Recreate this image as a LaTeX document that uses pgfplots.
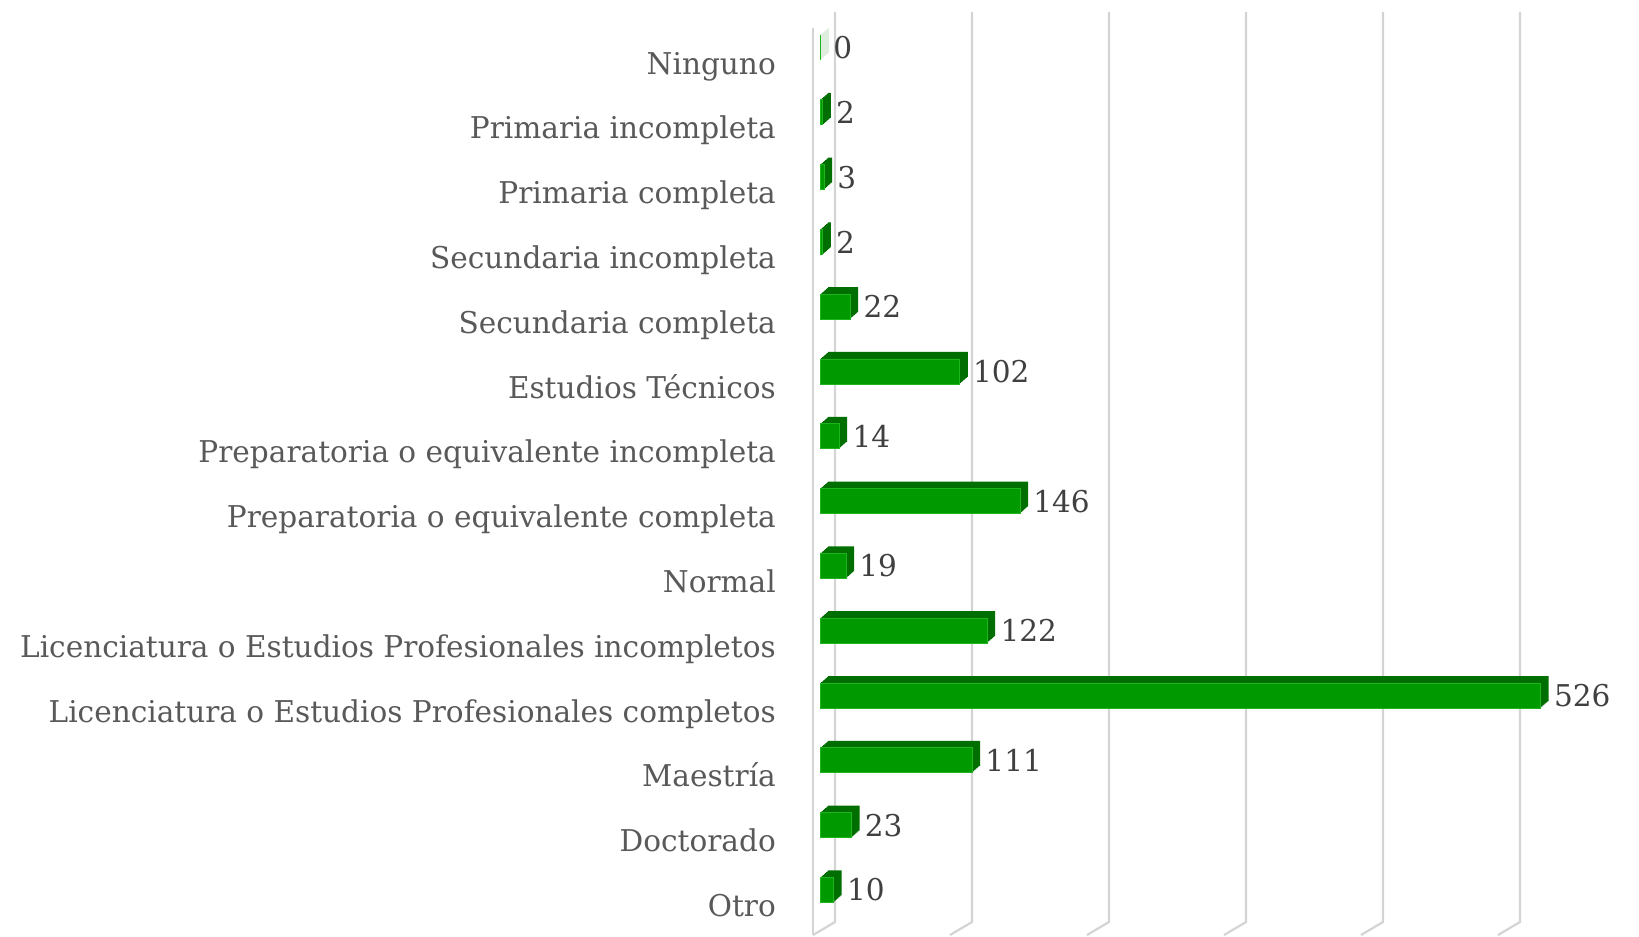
\documentclass[border=0pt]{standalone}
\usepackage{fontspec}
\setmainfont{DejaVu Serif}[FakeStretch=0.985]
\usepackage{pgfplots}
\pgfplotsset{compat=1.18}
\definecolor{barfront}{RGB}{0,153,0}
\definecolor{baredge}{RGB}{30,180,30}
\definecolor{bardark}{RGB}{0,110,0}
\definecolor{gridc}{RGB}{212,212,212}
\definecolor{labc}{RGB}{89,89,89}
\definecolor{valc}{RGB}{64,64,64}
\pgfplotstableread{
y v
13 0
12 2
11 3
10 2
9 22
8 102
7 14
6 146
5 19
4 122
3 526
2 111
1 23
0 10
}\datatab
\begin{document}
\begin{tikzpicture}
\begin{axis}[
  x=1.37bp, y=64.8bp,
  xmin=-598.54, xmax=597.81, ymin=-0.7114, ymax=13.733,
  axis line style={draw=none},
  major tick length=0pt,
  xtick=\empty,
  ytick={0,...,13},
  yticklabels={Otro,Doctorado,Maestría,Licenciatura o Estudios Profesionales completos,Licenciatura o Estudios Profesionales incompletos,Normal,Preparatoria o equivalente completa,Preparatoria o equivalente incompleta,Estudios Técnicos,Secundaria completa,Secundaria incompleta,Primaria completa,Primaria incompleta,Ninguno},
  yticklabel style={anchor=east, inner sep=0pt, xshift=776bp, yshift=-24bp,
    text=labc, font=\fontsize{30bp}{36bp}\selectfont, text height=0.73em, text depth=0.22em},
  /pgf/number format/assume math mode=true,
  clip=false,
]
% back wall / floor lines
\pgfplotsinvokeforeach{0,1,2,3,4,5}{
  \draw[gridc, line width=2.2bp] (axis cs:{10.95+100*#1},13.548) -- (axis cs:{10.95+100*#1},-0.4954) -- (axis cs:{10.95+100*#1-16.06},-0.696);
}
\draw[gridc, line width=2.2bp] (axis cs:-5.11,13.30) -- (axis cs:-5.11,-0.70);
% depth faces
\pgfplotsinvokeforeach{8,7,6,5,4,3,2,1}{
\addplot[xbar, bar shift=0pt, bar width=25bp, fill=bardark, draw=none, xshift=#1bp, yshift=0.875*#1bp] table[x=v, y=y] {\datatab};
}
% front faces
\addplot[xbar, bar shift=0pt, bar width=25bp, fill=barfront, draw=baredge, line width=0.75bp,
  nodes near coords, point meta=x,
  every node near coord/.append style={anchor=west, inner sep=0pt, xshift=13bp,
    text=valc, font=\fontsize{30bp}{36bp}\selectfont}] table[x=v, y=y] {\datatab};
\end{axis}
\pgfresetboundingbox
\path (current axis.south west) rectangle (current axis.north east);
\end{tikzpicture}
\end{document}
